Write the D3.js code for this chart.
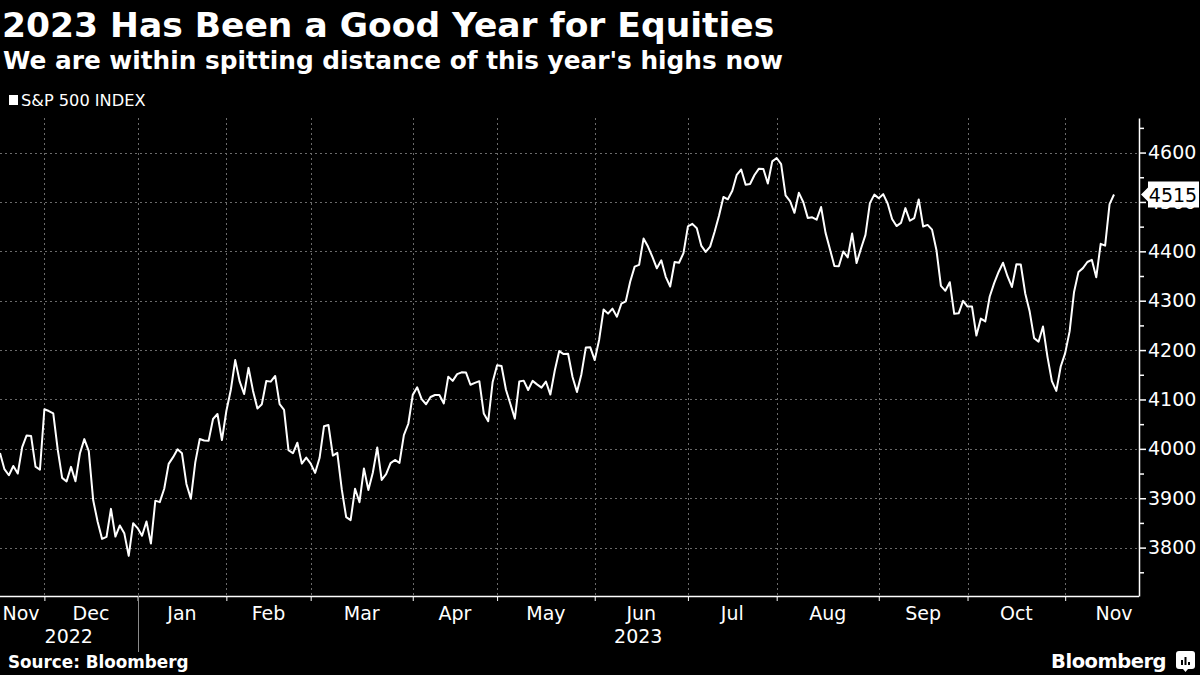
<!DOCTYPE html>
<html>
<head>
<meta charset="utf-8">
<script src="https://cdn.jsdelivr.net/npm/d3@7"></script>
<style>
  body { margin: 0; background: #000; }
  svg { display: block; }
  text { font-family: "DejaVu Sans", sans-serif; fill: #fff; }
</style>
</head>
<body>
<div id="chart"></div>
<script>
// S&P 500 index, daily closes Nov 15 2022 -> Nov 15 2023 (last one is the live 4515)
const months = ["2022-11", "2022-12", "2023-01", "2023-02", "2023-03", "2023-04",
                "2023-05", "2023-06", "2023-07", "2023-08", "2023-09", "2023-10", "2023-11"];
const monthLabels = ["Nov", "Dec", "Jan", "Feb", "Mar", "Apr", "May", "Jun", "Jul", "Aug", "Sep", "Oct", "Nov"];
const yearLabels = ["2022", "2023"];

const tradingDays = [
  [15, 16, 17, 18, 21, 22, 23, 25, 28, 29, 30],
  [1, 2, 5, 6, 7, 8, 9, 12, 13, 14, 15, 16, 19, 20, 21, 22, 23, 27, 28, 29, 30],
  [3, 4, 5, 6, 9, 10, 11, 12, 13, 17, 18, 19, 20, 23, 24, 25, 26, 27, 30, 31],
  [1, 2, 3, 6, 7, 8, 9, 10, 13, 14, 15, 16, 17, 21, 22, 23, 24, 27, 28],
  [1, 2, 3, 6, 7, 8, 9, 10, 13, 14, 15, 16, 17, 20, 21, 22, 23, 24, 27, 28, 29, 30, 31],
  [3, 4, 5, 6, 10, 11, 12, 13, 14, 17, 18, 19, 20, 21, 24, 25, 26, 27, 28],
  [1, 2, 3, 4, 5, 8, 9, 10, 11, 12, 15, 16, 17, 18, 19, 22, 23, 24, 25, 26, 30, 31],
  [1, 2, 5, 6, 7, 8, 9, 12, 13, 14, 15, 16, 20, 21, 22, 23, 26, 27, 28, 29, 30],
  [3, 5, 6, 7, 10, 11, 12, 13, 14, 17, 18, 19, 20, 21, 24, 25, 26, 27, 28, 31],
  [1, 2, 3, 4, 7, 8, 9, 10, 11, 14, 15, 16, 17, 18, 21, 22, 23, 24, 25, 28, 29, 30, 31],
  [1, 5, 6, 7, 8, 11, 12, 13, 14, 15, 18, 19, 20, 21, 22, 25, 26, 27, 28, 29],
  [2, 3, 4, 5, 6, 9, 10, 11, 12, 13, 16, 17, 18, 19, 20, 23, 24, 25, 26, 27, 30, 31],
  [1, 2, 3, 6, 7, 8, 9, 10, 13, 14, 15]
];

const closes = [
  [3991.73, 3958.79, 3946.56, 3965.34, 3949.94, 4003.58, 4027.26, 4026.12, 3963.94, 3957.63, 4080.11],
  [4076.57, 4071.70, 3998.84, 3941.26, 3933.92, 3963.51, 3934.38, 3990.56, 4019.65, 3995.32, 3895.75,
   3852.36, 3817.66, 3821.62, 3878.44, 3822.39, 3844.82, 3829.25, 3783.22, 3849.28, 3839.50],
  [3824.14, 3852.97, 3808.10, 3895.08, 3892.09, 3919.25, 3969.61, 3983.17, 3999.09, 3990.97,
   3928.86, 3898.85, 3972.61, 4019.81, 4016.95, 4016.22, 4060.43, 4070.56, 4017.77, 4076.60],
  [4119.21, 4179.76, 4136.48, 4111.08, 4164.00, 4117.86, 4081.50, 4090.46, 4137.29, 4136.13,
   4147.60, 4090.41, 4079.09, 3997.34, 3991.05, 4012.32, 3970.04, 3982.24, 3970.15],
  [3951.39, 3981.35, 4045.64, 4048.42, 3986.37, 3992.01, 3918.32, 3861.59, 3855.76, 3919.29, 3891.93,
   3960.28, 3916.64, 3951.57, 4002.87, 3936.97, 3948.72, 3970.99, 3977.53, 3971.27, 4027.81, 4050.83, 4109.31],
  [4124.51, 4100.60, 4090.38, 4105.02, 4109.11, 4108.94, 4091.95, 4146.22, 4137.64, 4151.32,
   4154.87, 4154.52, 4129.79, 4133.52, 4137.04, 4071.63, 4055.99, 4135.35, 4169.48],
  [4167.87, 4119.58, 4090.75, 4061.22, 4136.25, 4138.12, 4119.17, 4137.64, 4130.62, 4124.08, 4136.28,
   4109.90, 4158.77, 4198.05, 4191.98, 4192.63, 4145.58, 4115.24, 4151.28, 4205.45, 4205.52, 4179.83],
  [4221.02, 4282.37, 4273.79, 4283.85, 4267.52, 4293.93, 4298.86, 4338.93, 4369.01, 4372.59, 4425.84,
   4409.59, 4388.71, 4365.69, 4381.89, 4348.33, 4328.82, 4378.41, 4376.86, 4396.44, 4450.38],
  [4455.59, 4446.82, 4411.59, 4398.95, 4409.53, 4439.26, 4472.16, 4510.04, 4505.42, 4522.79,
   4554.98, 4565.72, 4534.87, 4536.34, 4554.64, 4567.46, 4566.75, 4537.41, 4582.23, 4588.96],
  [4576.73, 4513.39, 4501.89, 4478.03, 4518.44, 4499.38, 4467.71, 4468.83, 4464.05, 4489.72, 4437.86, 4404.33,
   4370.36, 4369.71, 4399.77, 4387.55, 4436.01, 4376.31, 4405.71, 4433.31, 4497.63, 4514.87, 4507.66],
  [4515.77, 4496.83, 4465.48, 4451.14, 4457.49, 4487.46, 4461.90, 4467.44, 4505.10, 4450.32,
   4453.53, 4443.95, 4402.20, 4330.00, 4320.06, 4337.44, 4273.53, 4274.51, 4299.70, 4288.05],
  [4288.39, 4229.45, 4263.75, 4258.19, 4308.50, 4335.66, 4358.24, 4376.95, 4349.61, 4327.78, 4373.63,
   4373.20, 4314.60, 4278.00, 4224.16, 4217.04, 4247.68, 4186.77, 4137.23, 4117.37, 4166.82, 4193.80],
  [4237.86, 4317.78, 4358.34, 4365.98, 4378.38, 4382.78, 4347.35, 4415.24, 4411.55, 4495.70, 4515.00]
];

const yTicks = [3800, 3900, 4000, 4100, 4200, 4300, 4400, 4500, 4600];

// flatten into one row per trading day
var data = [];
months.forEach(function (m, mi) {
  tradingDays[mi].forEach(function (d, di) {
    data.push({ month: mi, day: d, value: closes[mi][di] });
  });
});

var W = 1200, H = 675;
var plot = { left: 0, right: 1139, top: 118, bottom: 596 };

var svg = d3.select("#chart")
  .append("svg")
    .attr("width", W)
    .attr("height", H);

var x = d3.scaleLinear()
  .domain([0, data.length - 1])
  .range([plot.left, 1114]);

var y = d3.scaleLinear()
  .domain([3702, 4670])
  .range([plot.bottom, plot.top]);

// month boundaries = last trading day of each month
var bounds = [];
for (var i = 0; i < data.length - 1; i++) {
  if (data[i].month !== data[i + 1].month) bounds.push(i);
}

// grid
var grid = svg.append("g").attr("stroke", "#6a6a6a").attr("stroke-width", 1).attr("stroke-dasharray", "2,3");
grid.selectAll("line.h")
  .data(yTicks)
  .enter().append("line")
    .attr("x1", plot.left).attr("x2", plot.right)
    .attr("y1", function (d) { return Math.round(y(d)) + 0.5; })
    .attr("y2", function (d) { return Math.round(y(d)) + 0.5; });
grid.selectAll("line.v")
  .data(bounds)
  .enter().append("line")
    .attr("x1", function (d) { return Math.round(x(d)) + 0.5; })
    .attr("x2", function (d) { return Math.round(x(d)) + 0.5; })
    .attr("y1", plot.top).attr("y2", plot.bottom);

// title block
svg.append("text").attr("x", 2).attr("y", 37)
  .style("font-size", "34.5px").style("font-weight", "bold")
  .text("2023 Has Been a Good Year for Equities");
svg.append("text").attr("x", 3).attr("y", 69)
  .style("font-size", "24.8px").style("font-weight", "bold")
  .text("We are within spitting distance of this year's highs now");

// legend
svg.append("rect").attr("x", 9).attr("y", 95).attr("width", 9).attr("height", 10).attr("fill", "#fff");
svg.append("text").attr("x", 21).attr("y", 106)
  .style("font-size", "16.2px")
  .text("S&P 500 INDEX");

// y axis on the right, majors + minors
var yAxis = svg.append("g")
  .attr("transform", "translate(" + plot.right + ",0)")
  .call(d3.axisRight(y).tickValues(yTicks).tickSize(7).tickSizeOuter(0).tickPadding(2)
    .tickFormat(d3.format("d")));
yAxis.select(".domain").attr("stroke", "#fff").attr("stroke-width", 1.5);
yAxis.selectAll(".tick line").attr("stroke", "#fff").attr("stroke-width", 1.5);
yAxis.selectAll(".tick text")
  .attr("fill", "#fff")
  .style("font-family", "DejaVu Sans, sans-serif")
  .style("font-size", "19px");

svg.append("g")
  .attr("transform", "translate(" + plot.right + ",0)")
  .call(d3.axisRight(y).tickValues(d3.range(3750, 4700, 100)).tickSize(5).tickFormat(""))
  .call(function (g) {
    g.select(".domain").remove();
    g.selectAll(".tick line").attr("stroke", "#fff").attr("stroke-width", 1.5);
  });

// x axis
var xAxis = svg.append("g")
  .attr("transform", "translate(0," + plot.bottom + ")")
  .call(d3.axisBottom(x).tickValues(bounds).tickSize(5).tickFormat(""));
xAxis.select(".domain").remove();
xAxis.selectAll(".tick line").attr("stroke", "#fff").attr("stroke-width", 1);
svg.append("line")
  .attr("x1", plot.left).attr("x2", plot.right)
  .attr("y1", plot.bottom + 0.5).attr("y2", plot.bottom + 0.5)
  .attr("stroke", "#fff").attr("stroke-width", 1.5);

// month labels: centred in month, partial months at mid-month
var labelX = monthLabels.map(function (m, mi) {
  var first = mi === 0 ? null : bounds[mi - 1];
  var last = mi < bounds.length ? bounds[mi] : null;
  var px;
  if (first !== null && last !== null) {
    px = (x(first) + x(last)) / 2;
  } else {
    var idx = data.findIndex(function (d) { return d.month === mi && d.day >= 15; });
    px = x(idx);
  }
  return Math.max(px, 21);
});

svg.append("g").selectAll("text")
  .data(monthLabels)
  .enter().append("text")
    .attr("x", function (d, i) { return labelX[i]; })
    .attr("y", 620)
    .attr("text-anchor", "middle")
    .style("font-size", "19px")
    .text(function (d) { return d; });

// years
var yearBreak = x(bounds[1]);
svg.append("line")
  .attr("x1", Math.round(yearBreak) + 0.5).attr("x2", Math.round(yearBreak) + 0.5)
  .attr("y1", plot.bottom).attr("y2", 652)
  .attr("stroke", "#8a8a8a").attr("stroke-width", 1);
svg.append("g").selectAll("text")
  .data(yearLabels)
  .enter().append("text")
    .attr("x", function (d, i) { return i === 0 ? yearBreak / 2 : (yearBreak + plot.right) / 2; })
    .attr("y", 643)
    .attr("text-anchor", "middle")
    .style("font-size", "19px")
    .text(function (d) { return d; });

// the line
var line = d3.line()
  .x(function (d, i) { return x(i); })
  .y(function (d) { return y(d.value); });

svg.append("path")
  .datum(data)
  .attr("fill", "none")
  .attr("stroke", "#fff")
  .attr("stroke-width", 2)
  .attr("stroke-linejoin", "round")
  .attr("d", line);

// last value tag
var lastV = data[data.length - 1].value;
var ty = y(lastV);
svg.append("path")
  .attr("d", "M" + (plot.right + 2) + "," + ty +
             " L" + (plot.right + 9) + "," + (ty - 7) +
             " L" + (plot.right + 9) + "," + (ty - 13) +
             " L1199," + (ty - 13) +
             " L1199," + (ty + 13) +
             " L" + (plot.right + 9) + "," + (ty + 13) +
             " L" + (plot.right + 9) + "," + (ty + 7) + " Z")
  .attr("fill", "#fff");
svg.append("text")
  .attr("x", 1173).attr("y", ty + 7)
  .attr("text-anchor", "middle")
  .style("font-size", "19px")
  .style("fill", "#000")
  .text(d3.format(".0f")(lastV));

// footer
svg.append("text").attr("x", 8).attr("y", 668)
  .style("font-size", "16.8px").style("font-weight", "bold")
  .text("Source: Bloomberg");
svg.append("text").attr("x", 1166).attr("y", 668)
  .attr("text-anchor", "end")
  .style("font-size", "19.5px").style("font-weight", "bold")
  .style("letter-spacing", "-0.5px")
  .text("Bloomberg");

var logo = svg.append("g").attr("transform", "translate(1176,651)");
logo.append("rect").attr("width", 19).attr("height", 18).attr("rx", 3).attr("fill", "#fff");
logo.append("path").attr("d", "M7,18 L9.5,21 L12,18 Z").attr("fill", "#fff");
[[5, 9, 2], [8.5, 6, 2], [12, 11, 2]].forEach(function (b) {
  logo.append("rect")
    .attr("x", b[0]).attr("y", b[1])
    .attr("width", b[2]).attr("height", 14 - b[1])
    .attr("fill", "#000");
});
</script>
</body>
</html>
